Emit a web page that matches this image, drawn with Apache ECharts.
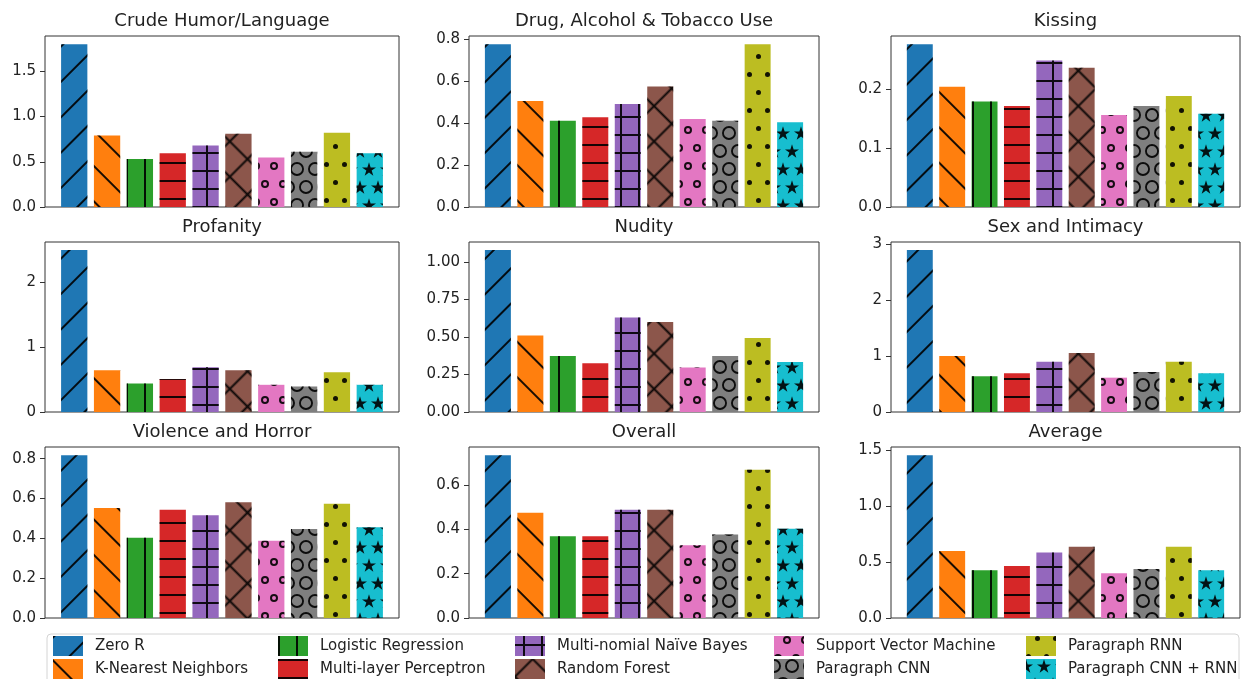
<!DOCTYPE html>
<html>
<head>
  <meta charset="UTF-8">
  <title>Prediction error by rating category</title>
  <script src="https://cdn.jsdelivr.net/npm/echarts@6.0.0/dist/echarts.min.js"></script>
  <style>
    html, body { margin: 0; padding: 0; background: #fff; }
    #main { width: 1241px; height: 679px; }
  </style>
</head>
<body>
<div id="main"></div>
<script type="text/javascript">
  // models, in legend order
  var models = ['Zero R', 'K-Nearest Neighbors', 'Logistic Regression', 'Multi-layer Perceptron',
    'Multi-nomial Naïve Bayes', 'Random Forest', 'Support Vector Machine', 'Paragraph CNN',
    'Paragraph RNN', 'Paragraph CNN + RNN'];
  var colors = ['#1f77b4', '#ff7f0e', '#2ca02c', '#d62728', '#9467bd',
    '#8c564b', '#e377c2', '#7f7f7f', '#bcbd22', '#17becf'];

  var titles = ['Crude Humor/Language', 'Drug, Alcohol & Tobacco Use', 'Kissing',
    'Profanity', 'Nudity', 'Sex and Intimacy',
    'Violence and Horror', 'Overall', 'Average'];

  // one value per model
  var crude     = [1.80, 0.79, 0.53, 0.595, 0.68, 0.81, 0.547, 0.61, 0.82, 0.595];
  var drug      = [0.778, 0.506, 0.412, 0.429, 0.492, 0.576, 0.42, 0.412, 0.778, 0.405];
  var kissing   = [0.2756, 0.2034, 0.1787, 0.1708, 0.248, 0.2358, 0.1557, 0.1708, 0.188, 0.158];
  var profanity = [2.50, 0.646, 0.44, 0.508, 0.692, 0.646, 0.42, 0.394, 0.615, 0.42];
  var nudity    = [1.08, 0.511, 0.374, 0.326, 0.63, 0.601, 0.297, 0.374, 0.493, 0.334];
  var sex       = [2.90, 1.005, 0.64, 0.693, 0.899, 1.059, 0.615, 0.716, 0.899, 0.693];
  var violence  = [0.818, 0.552, 0.403, 0.544, 0.516, 0.581, 0.388, 0.447, 0.574, 0.456];
  var overall   = [0.736, 0.476, 0.37, 0.37, 0.489, 0.489, 0.329, 0.377, 0.670, 0.403];
  var average   = [1.453, 0.597, 0.425, 0.464, 0.585, 0.635, 0.399, 0.437, 0.635, 0.425];
  var panels = [crude, drug, kissing, profanity, nudity, sex, violence, overall, average];

  // y tick labels of each panel
  var yTicks = [
    [0, 0.5, 1.0, 1.5],
    [0, 0.2, 0.4, 0.6, 0.8],
    [0, 0.1, 0.2],
    [0, 1, 2],
    [0, 0.25, 0.5, 0.75, 1.0],
    [0, 1, 2, 3],
    [0, 0.2, 0.4, 0.6, 0.8],
    [0, 0.2, 0.4, 0.6],
    [0, 0.5, 1.0, 1.5]
  ];
  var yDecimals = [1, 1, 1, 0, 2, 0, 1, 1, 1];

  // layout of the 3x3 panels
  var colLeft = [45, 469, 891];
  var colWidth = [354, 350, 349];
  var rowTop = [36, 242, 447];
  var rowHeight = [171, 170, 171];

  var FONT = 'DejaVu Sans';
  var INK = 'rgba(0,0,0,0.9)';

  // hatch shapes
  var plus18 = 'path://M0 8H18V10H0Z M8 0H10V18H8Z';
  var plus25 = 'path://M0 11.5H25V13.5H0Z M11.5 0H13.5V25H11.5Z';
  function ring(r) {
    var a = 10 - r, b = 10 + r;
    return 'path://M10 0A10 10 0 1 1 10 20A10 10 0 1 1 10 0Z M10 ' + a + 'A' + r + ' ' + r +
      ' 0 1 0 10 ' + b + 'A' + r + ' ' + r + ' 0 1 0 10 ' + a + 'Z';
  }
  function ringRight(r) {
    return 'path://M10 0A10 10 0 0 1 10 20L10 ' + (10 + r) + 'A' + r + ' ' + r + ' 0 0 0 10 ' + (10 - r) + 'Z';
  }
  function ringLeft(r) {
    return 'path://M10 0A10 10 0 0 0 10 20L10 ' + (10 + r) + 'A' + r + ' ' + r + ' 0 0 1 10 ' + (10 - r) + 'Z';
  }
  var star = 'path://M10 0L12.245 6.91L19.511 6.91L13.633 11.18L15.878 18.09L10 13.82L4.122 18.09L6.367 11.18L0.489 6.91L7.755 6.91Z';
  var starR = 'path://M10 0L12.245 6.91L19.511 6.91L13.633 11.18L15.878 18.09L10 13.82Z';
  var starL = 'path://M10 0L7.755 6.91L0.489 6.91L6.367 11.18L4.122 18.09L10 13.82Z';

  var decals = [
    { symbol: 'rect', dashArrayX: [25, 0], dashArrayY: [2, 23], rotation: -Math.PI / 4 },
    { symbol: 'rect', dashArrayX: [25, 0], dashArrayY: [2, 23], rotation: Math.PI / 4 },
    { symbol: 'rect', dashArrayX: [2, 16], dashArrayY: [18, 0] },
    { symbol: 'rect', dashArrayX: [18, 0], dashArrayY: [2, 16] },
    { symbol: plus18, dashArrayX: [18, 0], dashArrayY: [18, 0], symbolKeepAspect: false },
    { symbol: plus25, dashArrayX: [25, 0], dashArrayY: [25, 0], rotation: Math.PI / 4, symbolKeepAspect: false },
    { symbol: ring(5), dashArrayX: [[8, 10], [0, 9, 8, 1]], dashArrayY: [8, 10] },
    { symbol: [[ring(7.3), ring(7.3)], [ringRight(7.3), ringLeft(7.3)]],
      dashArrayX: [[0, 2, 14, 2], [7, 4, 7, 0]], dashArrayY: [14, 4] },
    { symbol: 'circle', dashArrayX: [[5, 13], [0, 9, 5, 4]], dashArrayY: [5, 13] },
    { symbol: [[star, star], [starR, starL]],
      dashArrayX: [[0, 2, 14, 2], [7, 4, 7, 0]], dashArrayY: [14, 4] }
  ];
  decals.forEach(function (d) {
    d.color = INK;
    if (d.symbolKeepAspect === undefined) d.symbolKeepAspect = true;
  });

  var grids = [], xAxes = [], yAxes = [], titleList = [], series = [];
  panels.forEach(function (vals, k) {
    var r = Math.floor(k / 3), c = k % 3;
    grids.push({
      left: colLeft[c], top: rowTop[r], width: colWidth[c], height: rowHeight[r],
      show: true, borderColor: '#333', borderWidth: 1, backgroundColor: 'transparent'
    });
    xAxes.push({
      gridIndex: k, type: 'value', min: -0.89, max: 9.89, show: false
    });
    var dec = yDecimals[k];
    yAxes.push({
      gridIndex: k, type: 'value', position: 'left',
      min: 0, max: Math.max.apply(null, vals) * 1.05,
      splitLine: { show: false },
      axisLine: { show: false, onZero: false },
      axisTick: { show: true, length: 5, lineStyle: { color: '#333' }, customValues: yTicks[k] },
      axisLabel: {
        customValues: yTicks[k], margin: 9, fontSize: 15, fontFamily: FONT, color: '#222',
        formatter: function (v) { return v.toFixed(dec); }
      }
    });
    titleList.push({
      text: titles[k], left: colLeft[c] + colWidth[c] / 2, top: rowTop[r] - 24,
      textAlign: 'center', padding: 0,
      textStyle: { fontSize: 18, fontWeight: 'normal', fontFamily: FONT, color: '#222' }
    });
    var bw = 0.8 * colWidth[c] / 10.78;
    vals.forEach(function (v, i) {
      series.push({
        name: models[i], type: 'bar', xAxisIndex: k, yAxisIndex: k,
        barWidth: bw, barGap: '-100%',
        data: [[i, v]],
        itemStyle: { color: colors[i], decal: decals[i] },
        emphasis: { disabled: true }
      });
    });
  });

  var legendCols = [[0, 1], [2, 3], [4, 5], [6, 7], [8, 9]];
  var legendLeft = [53, 278, 515, 774, 1026];
  var legends = legendCols.map(function (col, i) {
    return {
      orient: 'vertical', left: legendLeft[i], top: 636, padding: 0,
      itemWidth: 30, itemHeight: 20, itemGap: 3, icon: 'rect', selectedMode: false,
      data: col.map(function (j) { return models[j]; }),
      textStyle: { fontSize: 15, fontFamily: FONT, color: '#222', padding: [0, 0, 0, 7] }
    };
  });

  var myChart = echarts.init(document.getElementById('main'));
  myChart.setOption({
    animation: false,
    backgroundColor: '#fff',
    title: titleList,
    grid: grids,
    xAxis: xAxes,
    yAxis: yAxes,
    legend: legends,
    graphic: [{
      type: 'rect', z: -1,
      shape: { x: 47, y: 634, width: 1192, height: 60, r: 4 },
      style: { fill: '#fff', stroke: '#d4d4d4', lineWidth: 1 }
    }],
    series: series
  });
</script>
</body>
</html>
